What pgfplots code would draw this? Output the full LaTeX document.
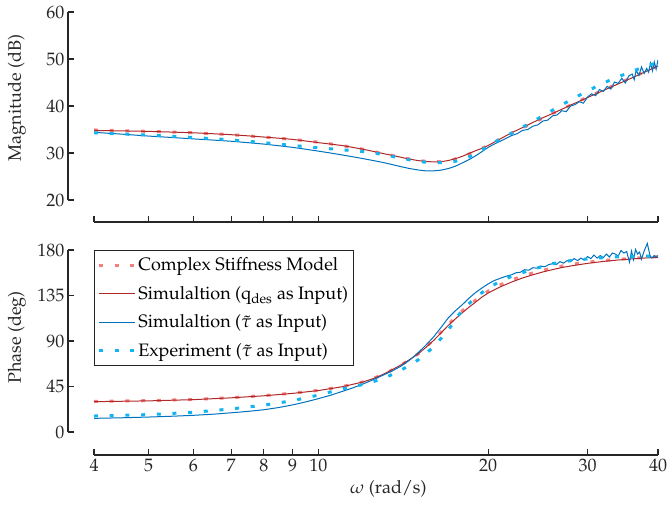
\documentclass[border=0pt]{standalone}
\usepackage[T1]{fontenc}
\usepackage{mathpazo}
\usepackage{pgfplots}
\pgfplotsset{compat=1.18}

\definecolor{axisgray}{RGB}{38,38,38}
\definecolor{modelred}{RGB}{246,128,128}
\definecolor{simred}{RGB}{176,40,40}
\definecolor{simblue}{RGB}{0,114,189}
\definecolor{expcyan}{RGB}{20,180,240}

\tikzset{
  model/.style={draw=modelred, line width=3pt, dash pattern=on 4pt off 11.7pt},
  simq/.style={draw=simred, line width=1pt},
  simt/.style={draw=simblue, line width=1pt},
  expt/.style={draw=expcyan, line width=3pt, dash pattern=on 4pt off 11.7pt},
  labfont/.style={font=\fontsize{18}{21}\selectfont, text=axisgray},
}

\begin{document}
\begin{tikzpicture}
\path[use as bounding box] (0pt,0pt) rectangle (668pt,504pt);

% magnitude
\begin{axis}[
  scale only axis, width=564pt, height=188pt,
  at={(94pt,304pt)}, anchor=south west,
  xmode=log, xmin=4, xmax=40,
  ymin=20, ymax=60, ytick={20,30,40,50,60},
  axis x line=bottom, axis y line=left,
  axis x line shift=22pt, axis y line shift=26pt,
  axis line style={-, line width=1.1pt, color=axisgray},
  every tick/.style={line width=1.1pt, color=axisgray},
  major tick length=6pt, tick align=inside,
  xtick={4,5,6,7,8,9,10,20,30,40}, minor xtick={},
  xticklabels={},
  tick label style={labfont},
  ylabel={Magnitude (dB)},
  every axis y label/.style={at={(axis description cs:-0.1365,0.542)}, anchor=center, rotate=90, labfont},
]
\addplot[model] table {
4 34.9
5 34.6
6 34.3
7 33.9
8 33.4
9 32.9
10 32.3
11 31.6
12 30.8
13 29.9
14 29.1
15 28.4
16 28.1
17 28.3
18 29.2
19 30.4
20 31.6
21 32.9
22 34.2
24 36.4
26 38.4
28 40.2
30 41.9
32 43.4
34 44.8
36 46.1
38 47.4
40 48.6
};
\addplot[simq] table {
4 34.8
4.5 34.7
5 34.6
5.5 34.45
6 34.3
6.5 34.1
7 33.9
7.5 33.65
8 33.4
8.5 33.15
9 32.9
9.5 32.55
10 32.2
10.5 31.9
11 31.6
11.5 31.2
12 30.8
12.5 30.35
13 29.9
13.5 29.5
14 29.1
14.5 28.7
15 28.4
15.5 28.2
16 28.1
16.5 28.15
17 28.4
17.5 28.8
18 29.3
18.5 29.9
19 30.5
19.5 31.0
20 31.6
21 33.0
22 34.3
23 35.4
24 36.5
25 37.5
26 38.4
27 39.3
28 40.2
29 41.0
30 41.8
32 43.3
34 44.7
36 46.0
38 47.3
40 48.5
};
\addplot[simt] table {
4 34.4
4.5 34.0
5 33.6
5.5 33.3
6 33.0
6.5 32.75
7 32.5
7.5 32.2
8 31.9
8.5 31.55
9 31.2
9.5 30.8
10 30.4
10.5 30.0
11 29.6
11.5 29.2
12 28.8
12.5 28.4
13 28.0
13.5 27.55
14 27.1
14.5 26.7
15 26.4
15.5 26.2
16 26.2
16.5 26.35
17 26.7
17.5 27.2
18 27.9
18.5 28.6
19 29.4
19.5 30.3
20 31.2
20.5 31.9
21 32.5
21.5 33.1
22.0 33.7
22.5 34.1
23.0 34.8
23.5 35.0
24.0 35.7
24.5 36.0
25.0 36.8
25.5 37.0
26.0 37.9
26.5 38.1
27.0 39.0
27.5 38.8
28.0 40.0
28.5 40.3
29.0 40.9
29.5 40.6
30.0 41.9
30.5 42.6
31.0 42.2
31.5 43.5
32.0 43.1
32.5 44.2
33.0 43.6
33.5 45.1
34.0 44.8
34.5 45.9
35.0 44.9
35.5 46.4
36.0 46.8
36.3 45.6
36.6 47.6
37.0 46.5
37.4 48.3
37.8 46.9
38.2 48.0
38.5 47.2
38.8 49.1
39.1 47.5
39.4 49.4
39.7 47.8
40.0 49.8
};
\addplot[expt] table {
4 34.3
5 33.8
6 33.3
7 32.8
8 32.2
9 31.6
10 31.1
11 30.7
12 30.3
13 29.7
14 28.9
15 28.2
16 27.9
17 28.0
18 28.5
19 29.8
20 31.5
21 33.0
22 34.2
24 36.7
26 39.1
28 41.3
30 43.2
32 44.9
34 46.2
36 47.4
38 48.4
40 49.3
};
\end{axis}

% phase
\begin{axis}[
  scale only axis, width=564pt, height=182pt,
  at={(94pt,72pt)}, anchor=south west,
  xmode=log, xmin=4, xmax=40,
  ymin=0, ymax=180, ytick={0,45,90,135,180},
  axis x line=bottom, axis y line=left,
  axis x line shift=23pt, axis y line shift=26pt,
  axis line style={-, line width=1.1pt, color=axisgray},
  every tick/.style={line width=1.1pt, color=axisgray},
  major tick length=6pt, tick align=inside,
  xtick={4,5,6,7,8,9,10,20,30,40}, minor xtick={},
  xticklabels={4,5,6,7,8,9,10,20,30,40},
  tick label style={labfont},
  clip=false,
  ylabel={Phase (deg)},
  every axis y label/.style={at={(axis description cs:-0.1365,0.52)}, anchor=center, rotate=90, labfont},
  xlabel={$\omega$ (rad/s)},
  every axis x label/.style={at={(axis description cs:0.522,-0.313)}, anchor=center, labfont},
  legend style={at={(axis description cs:0,1)}, anchor=north west,
    draw=axisgray, line width=0.8pt, fill=white,
    font=\fontsize{18}{21}\selectfont,
    inner xsep=3pt, inner ysep=5.5pt, row sep=10pt,
    cells={anchor=west}},
  legend image code/.code={\draw[#1] (0pt,0pt) -- (36pt,0pt);},
]
\addplot[model] table {
4 30.2
5 31.0
6 32.2
7 34.0
8 36.0
9 38.4
10 41.2
11 44.8
12 49.6
13 56.5
14 66.0
15 77.0
16 91.0
17 106.5
18 120.0
19 130.5
20 139.5
21 145.5
22 150.3
23 154.3
24 157.3
26 162.3
28 165.7
30 168.0
33 170.2
36 171.8
40 173.4
};
\addlegendentry{Complex Stiffness Model}
\addplot[simq] table {
4 30.0
5 30.8
6 32.0
7 33.8
8 35.8
9 38.2
10 41.0
11 44.7
12 49.5
12.5 52.8
13 56.8
13.5 61.5
14 66.3
14.5 71.5
15 77.0
15.5 83.5
16 90.5
16.5 98.0
17 105.5
17.5 112.0
18 118.0
18.5 123.5
19 128.5
19.5 133.5
20 137.5
21 143.5
22 148.3
23 152.3
24 155.5
25 158.3
26 160.6
27 162.6
28 164.2
30 166.8
32 168.7
34 170.1
36 171.2
38 172.1
40 172.8
};
\addlegendentry{Simulaltion (q\textsubscript{des} as Input)\hspace{11pt}}
\addplot[simt] table {
4 13.5
4.5 14.1
5 14.8
5.5 15.6
6 16.5
6.5 17.6
7 19.0
7.5 20.4
8 22.0
8.5 24.2
9 26.8
9.5 29.8
10 33.0
10.5 36.3
11 40.0
11.5 43.6
12 47.5
12.5 51.7
13 56.0
13.5 60.3
14 65.0
14.5 71.0
15 78.0
15.5 85.8
16 94.0
16.5 103.5
17 113.0
17.5 120.0
18 126.0
18.5 132.5
19 138.0
19.5 142.5
20 146.5
20.5 149.8
21 152.0
21.5 154.0
22.0 155.5
22.4 157.5
22.8 158.0
23.2 160.5
23.6 160.0
24.0 162.5
24.4 162.0
24.8 164.0
25.2 163.5
25.6 165.5
26.0 166.5
26.4 165.5
26.8 168.5
27.2 167.0
27.6 169.5
28.0 168.5
28.4 171.5
28.8 169.5
29.2 172.0
29.6 170.0
30.0 173.5
30.4 171.5
30.8 175.0
31.2 172.0
31.6 174.5
32.0 172.5
32.4 176.0
32.8 173.0
33.2 177.0
33.6 176.0
34.0 174.0
34.4 179.5
34.8 177.0
35.2 178.5
35.6 168.0
35.9 179.0
36.2 170.5
36.5 180.5
36.8 176.0
37.1 178.0
37.4 171.0
37.8 179.0
38.3 186.5
38.7 175.0
39.0 172.0
39.4 174.5
39.7 173.0
40.0 174.5
};
\addlegendentry{Simulaltion ($\tilde{\tau}$ as Input)}
\addplot[expt] table {
4 15.8
5 17.2
6 19.5
7 22.8
8 26.5
9 31.0
10 36.5
11 42.5
12 47.0
13 52.5
14 61.0
15 71.0
16 84.0
17 101.0
18 121.0
19 133.0
20 142.5
21 149.0
22 154.0
23 157.5
24 161.0
26 166.5
28 169.5
30 171.2
33 173.0
36 173.6
40 174.2
};
\addlegendentry{Experiment ($\tilde{\tau}$ as Input)}
\end{axis}
\end{tikzpicture}
\end{document}
